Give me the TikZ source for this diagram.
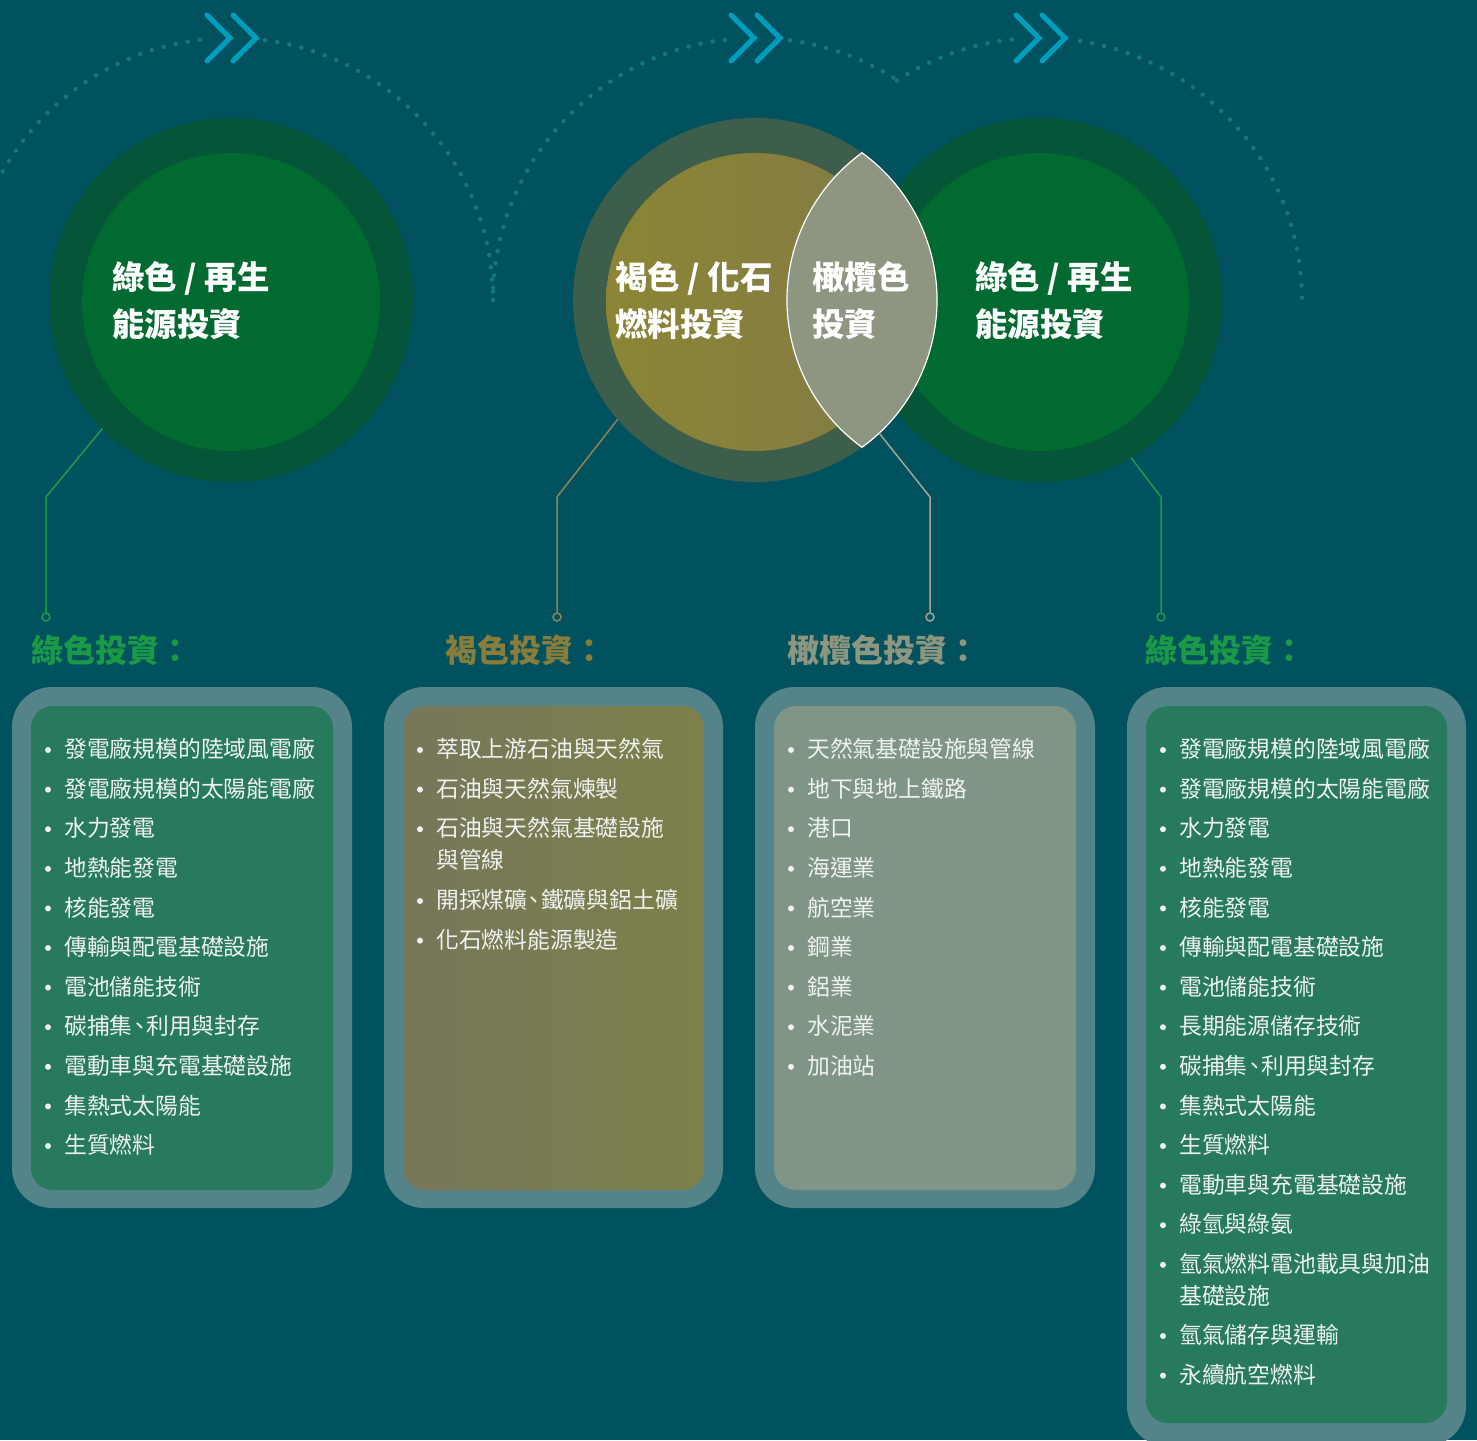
\documentclass[tikz,border=0pt]{standalone}
\usepackage{fontspec}
\setmainfont{Noto Sans CJK TC}
\definecolor{bg}{RGB}{0,83,94}
\definecolor{dotc}{RGB}{22,118,126}
\definecolor{chevc}{RGB}{0,158,190}
\definecolor{gring}{RGB}{5,85,56}
\definecolor{ginner}{RGB}{0,106,48}
\definecolor{bring}{RGB}{60,94,74}
\definecolor{binnerL}{RGB}{139,133,52}
\definecolor{binnerR}{RGB}{131,123,70}
\definecolor{lensc}{RGB}{142,149,128}
\definecolor{boxborder}{RGB}{85,131,138}
\definecolor{boxgreen}{RGB}{40,122,92}
\definecolor{boxbrownL}{RGB}{119,119,91}
\definecolor{boxbrownR}{RGB}{125,128,73}
\definecolor{boxolive}{RGB}{129,149,135}
\definecolor{itemtxt}{RGB}{238,242,240}
\definecolor{hgreen}{RGB}{26,154,70}
\definecolor{hbrown}{RGB}{138,125,60}
\definecolor{holive}{RGB}{142,150,128}
\definecolor{lgreen}{RGB}{30,155,70}
\definecolor{lbrown}{RGB}{150,128,85}
\definecolor{lolive}{RGB}{165,163,145}
\newcommand{\dun}{\kern-0.2em、\kern-0.2em}
\tikzset{
  dotarc/.style={draw=dotc, line width=4.5pt, line cap=round, dash pattern=on 0pt off 12.3pt},
  chev/.style={draw=chevc, line width=5pt, line cap=round, line join=miter},
  ringnode/.style={circle, inner sep=0pt, outer sep=0pt, minimum size=364pt},
  innernode/.style={circle, inner sep=0pt, outer sep=0pt, minimum size=298pt},
  ctext/.style={anchor=base west, inner sep=0pt, text=white, font=\bfseries\fontsize{32.5}{47}\selectfont},
  head/.style={anchor=base west, inner sep=0pt, font=\bfseries\fontsize{32}{36}\selectfont},
  item/.style={anchor=base west, inner sep=0pt, text=itemtxt, font=\fontsize{22.8}{32}\selectfont},
  conn/.style={line width=1.5pt},
  enddot/.style={circle, draw, fill=bg, line width=1.5pt, inner sep=0pt, minimum size=8pt},
  outerbox/.style={fill=boxborder, rounded corners=40pt},
  innerbox/.style={rounded corners=22pt},
}
\begin{document}
\begin{tikzpicture}[x=1pt,y=1pt]
\useasboundingbox (0,0) rectangle (1477,-1440);
\clip (0,0) rectangle (1477,-1440);
\fill[bg] (0,0) rectangle (1477,-1440);

% dotted arcs
\draw[dotarc] (231,-300) ++(156:262) arc[start angle=156, end angle=95.3, radius=262];
\draw[dotarc] (231,-300) ++(82.5:262) arc[start angle=82.5, end angle=0, radius=262];
\draw[dotarc] (755,-300) ++(180:262) arc[start angle=180, end angle=95, radius=262];
\draw[dotarc] (755,-300) ++(82.3:262) arc[start angle=82.3, end angle=57.2, radius=262];
\draw[dotarc] (1040,-300) ++(123.1:262) arc[start angle=123.1, end angle=95.7, radius=262];
\draw[dotarc] (1040,-300) ++(81.2:262) arc[start angle=81.2, end angle=0, radius=262];

% chevrons
\foreach \s in {205,231,729,755,1014,1040}
  \draw[chev] (\s+2,-15) -- (\s+25,-38) -- (\s+2,-61);

% circles
\node[ringnode, fill=gring] (c1o) at (231,-300) {};
\node[innernode, fill=ginner] (c1i) at (231,-302) {};
\node[ringnode, fill=gring] (c3o) at (1040,-300) {};
\node[innernode, fill=ginner] (c3i) at (1040,-302) {};
\node[ringnode, fill=bring] (c2o) at (755,-300) {};
\shade[left color=binnerL, right color=binnerR] (755,-302) circle (149);
\node[innernode] (c2i) at (755,-302) {};

% lens
\path[fill=lensc, draw=white, line width=1.2pt]
  (862,-152.8) arc[start angle=126, end angle=234, radius=182]
  arc[start angle=-54, end angle=54, radius=182] -- cycle;

% circle texts
\node[ctext] (t1) at (112,-289) {\vtop{\hbox{綠色 / 再生}\hbox{能源投資}}};
\node[ctext] (t2) at (615,-289) {\vtop{\hbox{褐色 / 化石}\hbox{燃料投資}}};
\node[ctext] (t3) at (812,-289) {\vtop{\hbox{橄欖色}\hbox{投資}}};
\node[ctext] (t4) at (975,-289) {\vtop{\hbox{綠色 / 再生}\hbox{能源投資}}};

% connectors
\node[enddot, draw=lgreen] (d1) at (46,-617) {};
\node[enddot, draw=lbrown] (d2) at (557,-617) {};
\node[enddot, draw=lolive] (d3) at (930,-617) {};
\node[enddot, draw=lgreen] (d4) at (1161,-617) {};
\draw[conn, draw=lgreen] (c1o.-135) -- (d1 |- 0,-497) -- (d1.north);
\draw[conn, draw=lbrown] (c2o.221.7) -- (d2 |- 0,-497) -- (d2.north);
\draw[conn, draw=lolive] (c2o.-47.2) -- (d3 |- 0,-497) -- (d3.north);
\draw[conn, draw=lgreen] (c3o.-60.5) -- (d4 |- 0,-497) -- (d4.north);

% headings
\node[head, text=hgreen] (h1) at (31,-662) {綠色投資：};
\node[head, text=hbrown] (h2) at (445,-662) {褐色投資：};
\node[head, text=holive] (h3) at (787,-662) {橄欖色投資：};
\node[head, text=hgreen] (h4) at (1145,-662) {綠色投資：};

% boxes
\fill[outerbox] (12,-687) rectangle (352,-1208);
\fill[innerbox, fill=boxgreen] (31,-706) rectangle (333,-1190);
\fill[outerbox] (384,-687) rectangle (723,-1208);
\shade[innerbox, left color=boxbrownL, right color=boxbrownR] (403,-706) rectangle (704,-1190);
\fill[outerbox] (755,-687) rectangle (1095,-1208);
\fill[innerbox, fill=boxolive] (774,-706) rectangle (1076,-1190);
\fill[outerbox] (1127,-687) rectangle (1466,-1446);
\fill[innerbox, fill=boxgreen] (1146,-706) rectangle (1447,-1423);

% box 1 items
\foreach \c/\t [count=\i] in {749/發電廠規模的陸域風電廠, 788.6/發電廠規模的太陽能電廠, 828.2/水力發電, 867.8/地熱能發電, 907.4/核能發電, 947/傳輸與配電基礎設施, 986.6/電池儲能技術, 1026.2/碳捕集\dun 利用與封存, 1065.8/電動車與充電基礎設施, 1105.4/集熱式太陽能, 1145/生質燃料}{
  \fill[itemtxt] (48,{-(\c+1)}) circle (3);
  \node[item] (ba\i) at (64,{-(\c+8.6)}) {\t};
}
% box 2 items
\foreach \c/\t [count=\i] in {749/萃取上游石油與天然氣, 788.6/石油與天然氣煉製, 828.2/{\vtop{\hbox{石油與天然氣基礎設施}\hbox{與管線}}}, 900/開採煤礦\dun 鐵礦與鋁土礦, 939.6/化石燃料能源製造}{
  \fill[itemtxt] (420,{-(\c+1)}) circle (3);
  \node[item] (bb\i) at (436,{-(\c+8.6)}) {\t};
}
% box 3 items
\foreach \c/\t [count=\i] in {749/天然氣基礎設施與管線, 788.6/地下與地上鐵路, 828.2/港口, 867.8/海運業, 907.4/航空業, 947/鋼業, 986.6/鋁業, 1026.2/水泥業, 1065.8/加油站}{
  \fill[itemtxt] (791,{-(\c+1)}) circle (3);
  \node[item] (bc\i) at (807,{-(\c+8.6)}) {\t};
}
% box 4 items
\foreach \c/\t [count=\i] in {749/發電廠規模的陸域風電廠, 788.6/發電廠規模的太陽能電廠, 828.2/水力發電, 867.8/地熱能發電, 907.4/核能發電, 947/傳輸與配電基礎設施, 986.6/電池儲能技術, 1026.2/長期能源儲存技術, 1065.8/碳捕集\dun 利用與封存, 1105.4/集熱式太陽能, 1145/生質燃料, 1184.6/電動車與充電基礎設施, 1224.2/綠氫與綠氨, 1263.8/{\vtop{\hbox{氫氣燃料電池載具與加油}\hbox{基礎設施}}}, 1335/氫氣儲存與運輸, 1374.6/永續航空燃料}{
  \fill[itemtxt] (1163,{-(\c+1)}) circle (3);
  \node[item] (bd\i) at (1179,{-(\c+8.6)}) {\t};
}
\end{tikzpicture}
\end{document}
